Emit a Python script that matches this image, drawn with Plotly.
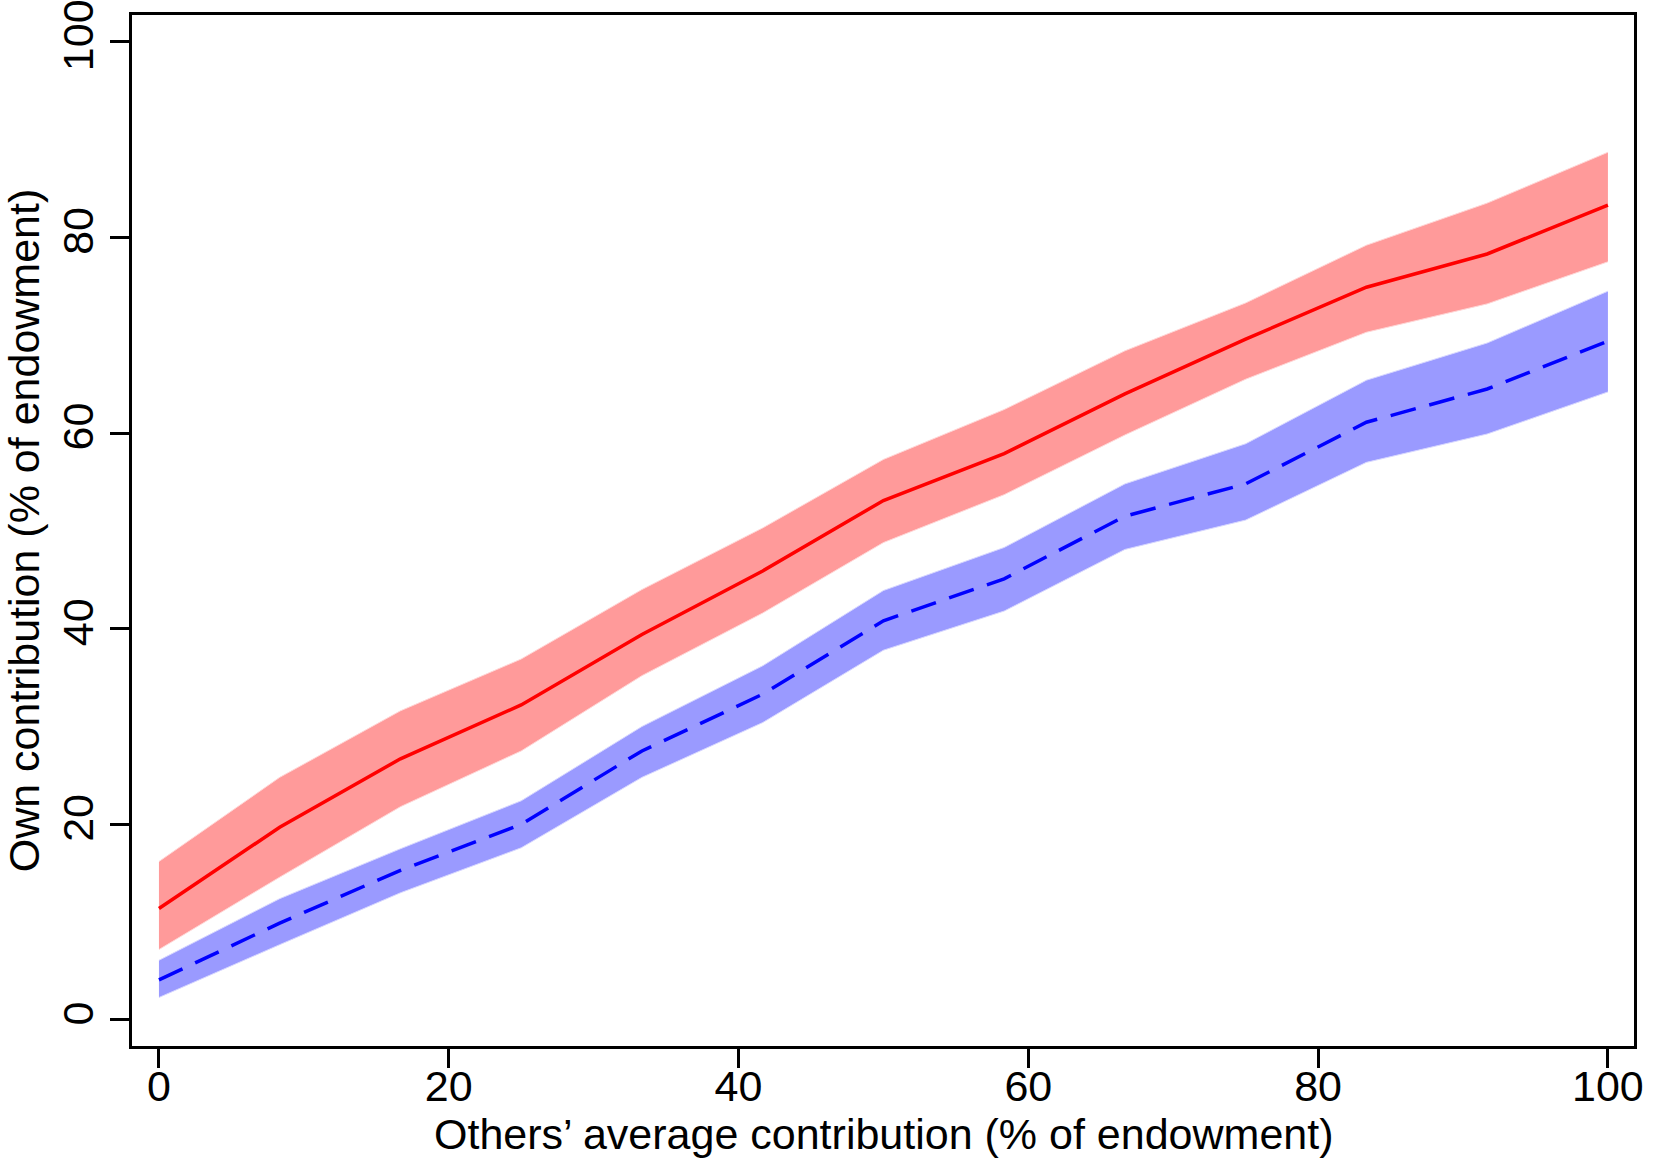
import plotly.graph_objects as go

# Others' average contribution (% of endowment)
others = [0, 100/12, 200/12, 25, 400/12, 500/12, 50, 700/12, 800/12, 75, 1000/12, 1100/12, 100]

# Red series (solid line) with confidence band
red_mean = [11.4, 19.7, 26.7, 32.2, 39.4, 45.9, 53.1, 57.9, 64.0, 69.6, 74.9, 78.3, 83.3]
red_upper = [16.2, 24.8, 31.6, 36.9, 44.0, 50.3, 57.3, 62.4, 68.4, 73.3, 79.2, 83.5, 88.7]
red_lower = [7.2, 14.6, 21.8, 27.5, 35.2, 41.6, 48.8, 53.7, 59.8, 65.5, 70.3, 73.2, 77.5]

# Blue series (dashed line) with confidence band
blue_mean = [4.1, 9.9, 15.3, 20.0, 27.5, 33.3, 40.8, 45.1, 51.5, 54.8, 61.1, 64.5, 69.4]
blue_upper = [6.1, 12.4, 17.5, 22.4, 30.0, 36.2, 43.9, 48.3, 54.8, 58.9, 65.4, 69.2, 74.5]
blue_lower = [2.3, 7.7, 13.0, 17.6, 24.8, 30.4, 37.8, 41.8, 48.1, 51.1, 57.0, 59.9, 64.2]

y_ticks = [0, 20, 40, 60, 80, 100]
x_ticks = [0, 20, 40, 60, 80, 100]

X_TITLE = "Others’ average contribution (% of endowment)"
Y_TITLE = "Own contribution (% of endowment)"

RED_FILL = "rgba(255,154,154,1)"
BLUE_FILL = "rgba(154,154,255,1)"

W, H = 1662, 1159
M = dict(l=132, r=28, t=15, b=113)
TICKLEN = 19
PLOT_H = H - M["t"] - M["b"]
X_RANGE = [-1.86, 101.8]
Y_RANGE = [-2.66, 102.73]

fig = go.Figure()

# Red band
fig.add_trace(go.Scatter(x=others, y=red_upper, mode="lines",
                         line=dict(color="rgba(255,215,215,1)", width=1),
                         showlegend=False, hoverinfo="skip"))
fig.add_trace(go.Scatter(x=others, y=red_lower, mode="lines", fill="tonexty",
                         fillcolor=RED_FILL,
                         line=dict(color="rgba(255,215,215,1)", width=1),
                         showlegend=False, hoverinfo="skip"))
# Blue band
fig.add_trace(go.Scatter(x=others, y=blue_upper, mode="lines",
                         line=dict(color="rgba(215,215,255,1)", width=1),
                         showlegend=False, hoverinfo="skip"))
fig.add_trace(go.Scatter(x=others, y=blue_lower, mode="lines", fill="tonexty",
                         fillcolor=BLUE_FILL,
                         line=dict(color="rgba(215,215,255,1)", width=1),
                         showlegend=False, hoverinfo="skip"))
# Lines (on the overlay x axis, same range, which carries the tick labels)
fig.add_trace(go.Scatter(x=others, y=red_mean, mode="lines", xaxis="x2",
                         line=dict(color="#FF0000", width=3.5),
                         showlegend=False))
fig.add_trace(go.Scatter(x=others, y=blue_mean, mode="lines", xaxis="x2",
                         line=dict(color="#0000FF", width=3.5, dash="26px,14px"),
                         showlegend=False))

FONT = "Liberation Sans, Arial, sans-serif"
FS = 43

fig.update_layout(
    width=W, height=H,
    margin=M,
    paper_bgcolor="white", plot_bgcolor="white",
    font=dict(family=FONT, size=FS, color="black"),
    showlegend=False,
    # main x axis: frame and outside tick marks
    xaxis=dict(
        range=X_RANGE, automargin=False,
        tickmode="array", tickvals=x_ticks,
        ticks="outside", ticklen=TICKLEN, tickwidth=2.5, tickcolor="black",
        showticklabels=False,
        showline=True, linecolor="black", linewidth=2.5, mirror=True,
        showgrid=False, zeroline=False,
    ),
    # overlay x axis: tick labels, sitting just under the tick marks
    xaxis2=dict(
        overlaying="x", anchor="y", side="bottom", range=X_RANGE,
        tickmode="array", tickvals=x_ticks, ticktext=[str(v) for v in x_ticks],
        ticks="", showticklabels=True, ticklabeloverflow="allow",
        ticklabelstandoff=11,
        showline=False, showgrid=False, zeroline=False,
        automargin=False,
        tickfont=dict(family=FONT, size=FS, color="black"),
    ),
    yaxis=dict(
        range=Y_RANGE, automargin=False,
        tickmode="array", tickvals=y_ticks, ticktext=[str(v) for v in y_ticks],
        ticks="outside", ticklen=TICKLEN, tickwidth=2.5, tickcolor="black",
        tickangle=-90, ticklabelstandoff=0, ticklabeloverflow="allow",
        showline=True, linecolor="black", linewidth=2.5, mirror=True,
        showgrid=False, zeroline=False,
        tickfont=dict(family=FONT, size=FS, color="black"),
        title=dict(text=Y_TITLE,
                   font=dict(family=FONT, size=FS, color="black"), standoff=7),
    ),
)

# x-axis title placed just below the tick labels
fig.add_annotation(text=X_TITLE, xref="paper", yref="paper",
                   x=0.5, y=-(1134 - (H - M["b"])) / PLOT_H,
                   xanchor="center", yanchor="middle", showarrow=False,
                   font=dict(family=FONT, size=FS, color="black"))

fig.write_html("out.html", config={"displayModeBar": False},
               post_script="document.body.style.margin='0px';")
